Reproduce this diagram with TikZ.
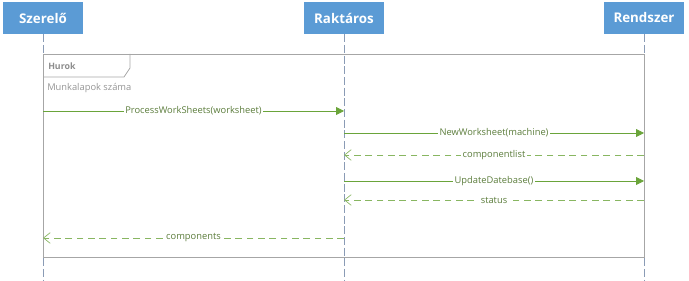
\documentclass[tikz,border=0pt]{standalone}
\usepackage{fontspec}
\setmainfont{Open Sans}
\usetikzlibrary{arrows.meta}

\definecolor{headblue}{HTML}{5B9BD5}
\definecolor{msggreen}{HTML}{6AA43A}
\definecolor{labgreen}{HTML}{5C7D3C}
\definecolor{framegray}{HTML}{A6A6A6}
\definecolor{lifegray}{HTML}{8A9BB5}

\tikzset{
  head/.style={fill=headblue, text=white, minimum width=60pt, minimum height=24pt,
    inner sep=0pt, font=\bfseries\fontsize{10}{11}\selectfont},
  lifeline/.style={lifegray, line width=0.6pt, dash pattern=on 6pt off 2pt},
  frame/.style={framegray, line width=0.6pt},
  call/.style={msggreen, line width=0.6pt, -{Triangle[length=6pt,width=6pt]}},
  reply/.style={msggreen!80, line width=0.6pt, dash pattern=on 5pt off 3.5pt,
    -{Straight Barb[length=5pt,width=8pt,line width=0.5pt]}},
  msglabel/.style={fill=white, text=labgreen, inner sep=1pt,
    font=\fontsize{7}{8}\selectfont},
}

\begin{document}
\begin{tikzpicture}[x=0.75pt, y=-0.75pt]
\useasboundingbox (0,0) rectangle (689,281);

% lifeline heads
\node[head] (sz) at (43,18) {Szerelő};
\node[head] (rk) at (344,18) {Raktáros};
\node[head] (rd) at (644,18) {Rendszer};

\coordinate (bottom) at (0,281);
\draw[lifeline] (sz.south) -- (sz |- bottom);
\draw[lifeline] (rk.south) -- (rk |- bottom);
\draw[lifeline] (rd.south) -- (rd |- bottom);

% loop frame
\coordinate (ftop) at (0,54);
\coordinate (fbot) at (0,257);
\draw[frame] (sz |- ftop) rectangle (rd |- fbot);
\draw[frame] (130,54) -- (130,68) -- (124,77) -- (sz |- 0,77);
\node[anchor=west, text=framegray!85!black, inner sep=0pt,
  font=\bfseries\fontsize{6.6}{7}\selectfont] (hurok) at (48,66) {Hurok};
\node[anchor=west, text=framegray!90!black, inner sep=0pt,
  font=\fontsize{7}{8}\selectfont] (guard) at (47,88) {Munkalapok száma};

% messages
\coordinate (m1) at (0,111);
\coordinate (m2) at (0,133);
\coordinate (m3) at (0,155);
\coordinate (m4) at (0,181);
\coordinate (m5) at (0,200);
\coordinate (m6) at (0,238);

\draw[call] (sz |- m1) -- node[msglabel] {ProcessWorkSheets(worksheet)} (rk |- m1);
\draw[call] (rk |- m2) -- node[msglabel] {NewWorksheet(machine)} (rd |- m2);
\draw[reply] (rd |- m3) -- node[msglabel] {componentlist} (rk |- m3);
\draw[call] (rk |- m4) -- node[msglabel] {UpdateDatebase()} (rd |- m4);
\draw[reply] (rd |- m5) -- node[msglabel] {status} (rk |- m5);
\draw[reply] (rk |- m6) -- node[msglabel] {components} (sz |- m6);
\end{tikzpicture}
\end{document}
